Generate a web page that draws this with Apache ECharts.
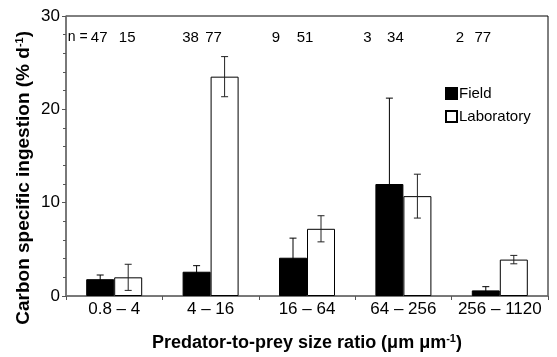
<!DOCTYPE html>
<html><head><meta charset="utf-8">
<script src="https://cdn.jsdelivr.net/npm/echarts@6/dist/echarts.min.js"></script>
<style>html,body{margin:0;padding:0;background:#fff}#c{width:557px;height:357px}</style>
</head><body><div id="c"></div>
<script>
var categories = ['0.8 \u2013 4', '4 \u2013 16', '16 \u2013 64', '64 \u2013 256', '256 \u2013 1120'];
var fieldValues = [1.8, 2.6, 4.1, 12.0, 0.6];
var fieldErrors = [0.45, 0.65, 2.1, 9.2, 0.4];
var labValues = [2.0, 23.5, 7.2, 10.7, 3.9];
var labErrors = [1.4, 2.15, 1.4, 2.35, 0.45];
var nField = [47, 38, 9, 3, 2];
var nLab = [15, 77, 51, 34, 77];
var yTicks = [0, 10, 20, 30];

var FONT = 'Liberation Sans, Arial, sans-serif';
var BW = 28;
var chart = echarts.init(document.getElementById('c'), null, {renderer: 'canvas'});

function errSeries(values, errors, side, color) {
  return {
    type: 'custom',
    silent: true,
    z: 5,
    data: values.map(function (v, i) { return [i, v, errors[i]]; }),
    renderItem: function (params, api) {
      var i = api.value(0), v = api.value(1), e = api.value(2);
      var c = api.coord([i, v]);
      var x = c[0] + side * BW / 2;
      var yt = api.coord([i, v + e])[1];
      var yb = api.coord([i, Math.max(0, v - e)])[1];
      var st = {stroke: color, lineWidth: 1};
      return {type: 'group', children: [
        {type: 'line', shape: {x1: x, y1: yt, x2: x, y2: yb}, style: st},
        {type: 'line', shape: {x1: x - 3.5, y1: yt, x2: x + 3.5, y2: yt}, style: st},
        {type: 'line', shape: {x1: x - 3.5, y1: yb, x2: x + 3.5, y2: yb}, style: st}
      ]};
    }
  };
}

var nFieldDx = [-15, -20, -31, -36, -40];
var nLabDx = [13, 3, -2, -8, -17];

var option = {
  animation: false,
  backgroundColor: '#fff',
  textStyle: {fontFamily: FONT},
  grid: {left: 66, right: 9, top: 16, bottom: 56, show: true, borderColor: '#000', borderWidth: 1},
  legend: {
    orient: 'vertical', left: 440, top: 81, itemWidth: 11, itemHeight: 11, itemGap: 8,
    icon: 'rect', textStyle: {fontSize: 15, color: '#000', fontFamily: FONT, padding: [0, 0, 0, -3]},
    data: ['Field', 'Laboratory']
  },
  xAxis: {
    type: 'category', data: categories,
    axisLine: {lineStyle: {color: '#777', width: 1.5}},
    axisTick: {show: true, length: 4, lineStyle: {color: '#555'}},
    axisLabel: {fontSize: 17, color: '#000', margin: 5, fontFamily: FONT, interval: 0},
    name: '{b|Predator-to-prey size ratio (\u03bcm \u03bcm}{s|-1}{b|)}',
    nameLocation: 'middle', nameGap: 37,
    nameTextStyle: {rich: {
      b: {fontSize: 18, fontWeight: 'bold', color: '#000', fontFamily: FONT},
      s: {fontSize: 11, fontWeight: 'bold', color: '#000', fontFamily: FONT, verticalAlign: 'top', padding: [0, 0, 9, 0]}
    }}
  },
  yAxis: {
    type: 'value', min: 0, max: 30, interval: 10,
    splitLine: {show: false},
    axisLine: {show: true, lineStyle: {color: '#777', width: 1.5}},
    axisTick: {show: true, length: 4, lineStyle: {color: '#555'}},
    minorTick: {show: true, splitNumber: 5, length: 3, lineStyle: {color: '#555'}},
    axisLabel: {fontSize: 17, color: '#000', margin: 6, fontFamily: FONT,
      formatter: function (v) { return yTicks.indexOf(v) >= 0 ? String(v) : ''; }}
  },
  graphic: [{
    type: 'text', left: 14, top: 31, rotation: Math.PI / 2,
    style: {
      text: '{b|Carbon specific ingestion (% d}{s|-1}{b|)}',
      rich: {
        b: {fontSize: 19, fontWeight: 'bold', fill: '#000', fontFamily: FONT},
        s: {fontSize: 11, fontWeight: 'bold', fill: '#000', fontFamily: FONT, verticalAlign: 'top', padding: [0, 0, 9, 0]}
      }
    }
  }],
  series: [
    {name: 'Field', type: 'bar', data: fieldValues, barWidth: BW, barGap: '0%',
      itemStyle: {color: '#000', borderColor: '#000', borderWidth: 1}},
    {name: 'Laboratory', type: 'bar', data: labValues, barWidth: BW, barGap: '0%',
      itemStyle: {color: '#fff', borderColor: '#000', borderWidth: 1}},
    errSeries(fieldValues, fieldErrors, -1, '#000'),
    errSeries(labValues, labErrors, 1, '#222'),
    {
      type: 'custom', silent: true, z: 6,
      data: nField.map(function (n, i) { return [i, 27.7, n, nLab[i]]; }),
      renderItem: function (params, api) {
        var i = api.value(0);
        var c = api.coord([i, api.value(1)]);
        var ts = {fontSize: 15, fill: '#000', fontFamily: FONT, textAlign: 'center', textVerticalAlign: 'middle'};
        var kids = [
          {type: 'text', x: c[0] + nFieldDx[i], y: c[1], style: Object.assign({text: String(api.value(2))}, ts)},
          {type: 'text', x: c[0] + nLabDx[i], y: c[1], style: Object.assign({text: String(api.value(3))}, ts)}
        ];
        if (i === 0) {
          kids.push({type: 'text', x: c[0] + nFieldDx[i] - 11.5, y: c[1],
            style: Object.assign({}, ts, {text: 'n =', textAlign: 'right', fontSize: 14})});
        }
        return {type: 'group', children: kids};
      }
    }
  ]
};
chart.setOption(option);
</script></body></html>
